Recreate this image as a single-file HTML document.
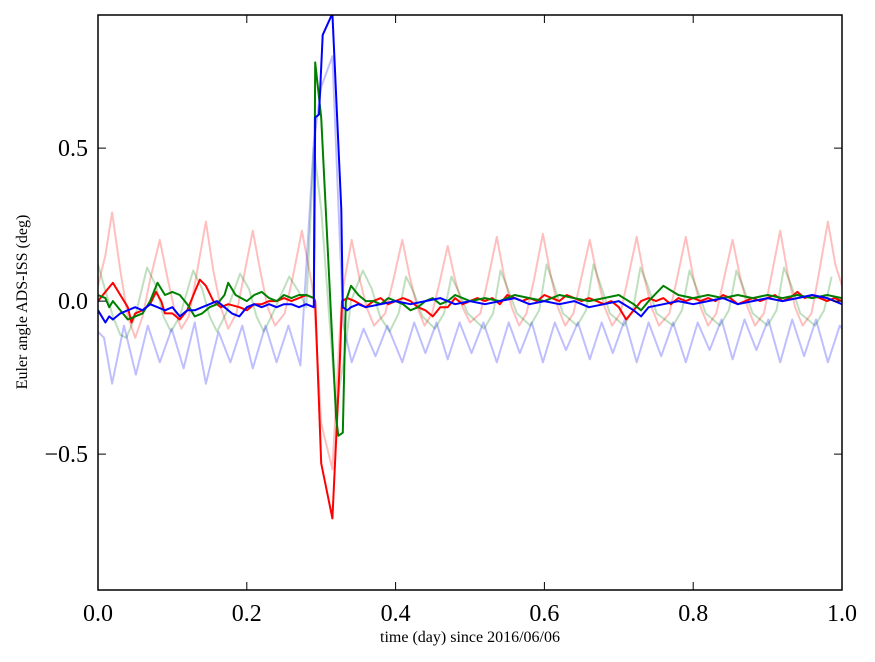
<!DOCTYPE html>
<html><head><meta charset="utf-8"><style>
html,body{margin:0;padding:0;background:#fff;}
svg{display:block;font-family:"Liberation Serif",serif;}
</style></head><body>
<svg id="chart" width="875" height="662" xmlns="http://www.w3.org/2000/svg"></svg>
<script>
const xTicks=[0,0.2,0.4,0.6,0.8,1.0];
const xTickLabels=["0.0","0.2","0.4","0.6","0.8","1.0"];
const yTicks=[-0.5,0,0.5];
const yTickLabels=["\u22120.5","0.0","0.5"];
// faint red
const redFaintT=[0,.01,.019,.03,.04,.05,.06,.07,.083,.093,.103,.112,.122,.132,.145,.155,.165,.175,.186,.196,.208,.218,.228,.238,.251,.262,.274,.284,.29,.3,.315,.325,.33,.341,.351,.361,.371,.386,.397,.409,.419,.429,.439,.449,.459,.47,.48,.49,.5,.514,.524,.536,.546,.556,.566,.576,.586,.598,.608,.618,.628,.639,.649,.661,.671,.681,.691,.702,.712,.724,.734,.744,.754,.768,.778,.79,.8,.81,.82,.831,.841,.853,.863,.873,.883,.895,.905,.917,.927,.937,.947,.959,.969,.981,.991,1];
const redFaintV=[.05,.15,.29,.1,-.05,-.12,-.05,.07,.2,.08,-.03,-.09,-.05,.08,.26,.1,-.02,-.09,-.04,.08,.23,.1,-.02,-.08,-.04,.08,.23,.1,.02,-.4,-.55,-.1,.05,.2,.08,-.02,-.08,-.04,.07,.2,.08,-.02,-.08,-.04,.06,.18,.07,-.02,-.07,-.04,.07,.21,.08,-.02,-.08,-.04,.07,.22,.09,-.02,-.08,-.04,.07,.2,.08,-.02,-.08,-.04,.07,.21,.08,-.02,-.08,-.04,.07,.21,.08,-.02,-.08,-.04,.07,.2,.08,-.02,-.08,-.04,.08,.23,.09,-.02,-.08,-.04,.09,.26,.12,.05];
// faint green
const greenFaintT=[0,.008,.02,.03,.038,.05,.066,.078,.088,.098,.11,.128,.14,.15,.16,.172,.191,.203,.213,.223,.235,.257,.27,.28,.29,.3,.32,.33,.34,.356,.368,.379,.392,.404,.414,.424,.436,.453,.465,.475,.485,.497,.519,.531,.541,.551,.563,.581,.593,.603,.613,.625,.644,.656,.666,.676,.688,.707,.719,.729,.739,.751,.773,.785,.795,.805,.817,.836,.848,.858,.868,.88,.9,.912,.922,.932,.944,.964,.976,.986,.996,1];
const greenFaintV=[.12,.05,-.05,-.11,-.12,-.05,.11,.05,-.05,-.1,-.05,.1,.04,-.05,-.1,-.04,.09,.04,-.05,-.1,-.04,.08,.03,-.02,.5,.3,-.35,-.2,.0,.1,.04,-.05,-.1,-.04,.08,.03,-.05,-.09,-.04,.08,.03,-.04,-.09,-.04,.1,.04,-.04,-.08,-.03,.12,.05,-.04,-.08,-.03,.12,.05,-.04,-.08,-.03,.11,.05,-.04,-.08,-.03,.1,.04,-.04,-.08,-.03,.1,.04,-.04,-.08,-.03,.11,.05,-.04,-.08,-.03,.08];
// faint blue
const blueFaintT=[0,.008,.019,.035,.051,.067,.083,.099,.115,.13,.145,.162,.178,.194,.208,.225,.24,.256,.272,.29,.3,.315,.325,.33,.341,.357,.373,.389,.409,.425,.44,.455,.47,.486,.502,.518,.536,.552,.567,.583,.598,.614,.629,.645,.661,.677,.692,.708,.724,.74,.757,.773,.79,.806,.822,.838,.853,.869,.885,.901,.917,.933,.949,.965,.981,.997,1];
const blueFaintV=[-.1,-.12,-.27,-.08,-.24,-.08,-.2,-.09,-.22,-.07,-.27,-.1,-.2,-.08,-.22,-.08,-.2,-.08,-.21,.52,.7,.8,.2,-.08,-.2,-.09,-.18,-.08,-.2,-.07,-.17,-.07,-.19,-.07,-.17,-.07,-.2,-.07,-.17,-.07,-.2,-.07,-.16,-.07,-.19,-.07,-.17,-.06,-.2,-.07,-.18,-.07,-.2,-.07,-.16,-.06,-.19,-.06,-.16,-.06,-.2,-.06,-.18,-.06,-.2,-.08,-.09];
// bold red
const redT=[0,.01,.02,.03,.04,.045,.05,.06,.07,.078,.085,.09,.1,.11,.12,.13,.137,.145,.155,.165,.175,.19,.2,.21,.22,.23,.24,.25,.26,.27,.28,.29,.292,.3,.315,.325,.328,.335,.345,.36,.37,.38,.39,.4,.41,.42,.43,.44,.45,.46,.47,.48,.49,.5,.51,.52,.53,.54,.55,.56,.57,.58,.59,.6,.61,.62,.63,.64,.65,.66,.67,.68,.69,.7,.71,.72,.73,.74,.75,.76,.77,.78,.79,.8,.81,.82,.83,.84,.85,.86,.87,.88,.89,.9,.91,.92,.93,.94,.95,.96,.97,.98,.99,1];
const redV=[0,.03,.06,.02,-.02,-.07,-.04,-.03,-.01,.03,0,-.04,-.04,-.06,-.03,.03,.07,.05,0,-.02,-.01,-.02,-.03,-.01,-.01,0,0,.01,0,.01,.02,.01,0,-.53,-.71,-.2,0,.01,0,-.02,0,.01,-.01,0,.01,0,-.02,-.03,-.05,-.02,-.02,.01,-.01,0,.01,0,.01,-.01,.02,.01,0,.01,0,.02,.01,0,.02,.01,0,.01,0,-.01,0,-.02,-.06,-.03,0,.01,0,.01,-.01,.01,0,.01,0,.01,0,.02,.01,-.01,0,.01,0,.01,.02,0,.01,.03,.01,.02,.01,0,.01,0];
// bold green
const greenT=[0,.01,.015,.02,.03,.04,.05,.06,.07,.08,.09,.1,.11,.12,.13,.14,.15,.16,.17,.175,.185,.2,.21,.22,.23,.24,.25,.26,.27,.28,.29,.292,.3,.32,.323,.329,.333,.34,.35,.36,.37,.38,.39,.4,.41,.42,.43,.44,.45,.46,.47,.48,.49,.5,.52,.54,.56,.58,.6,.62,.64,.66,.68,.7,.72,.73,.74,.76,.78,.8,.82,.84,.86,.88,.9,.92,.94,.96,.98,1];
const greenV=[.02,.01,-.02,0,-.03,-.06,-.05,-.04,0,.06,.02,.03,.02,-.01,-.05,-.04,-.02,-.01,.02,.06,.02,0,.02,.03,.01,0,.02,.01,.02,.02,.01,.78,.6,-.38,-.44,-.43,0,.05,.02,0,0,-.01,.01,0,-.01,-.03,-.02,0,.01,-.01,0,.02,.01,0,.01,0,.02,.01,0,.02,.01,0,.01,.02,-.01,-.03,0,.05,.02,.01,.02,.01,.02,.01,.02,.01,.02,.01,.02,.01];
// bold blue
const blueT=[0,.01,.015,.02,.03,.04,.05,.06,.07,.08,.09,.1,.11,.12,.13,.14,.15,.16,.17,.18,.19,.2,.21,.22,.23,.24,.25,.26,.27,.28,.29,.292,.297,.302,.315,.327,.329,.335,.34,.35,.36,.38,.4,.42,.44,.46,.48,.5,.52,.54,.56,.58,.6,.62,.64,.66,.68,.7,.72,.73,.74,.76,.78,.8,.82,.84,.86,.88,.9,.92,.94,.96,.98,1];
const blueV=[-.03,-.07,-.05,-.06,-.04,-.03,-.02,-.03,-.01,-.02,-.03,-.02,-.05,-.03,-.03,-.02,-.01,0,-.02,-.04,-.05,-.02,-.01,-.02,-.01,-.02,-.01,-.01,-.02,-.01,-.02,.6,.61,.87,.94,.3,-.02,-.03,-.02,-.01,-.02,-.01,0,-.01,0,.01,-.01,0,-.01,0,.01,-.01,0,-.01,0,-.02,-.01,0,-.03,-.05,-.02,-.01,0,-.01,0,.01,-.01,0,.01,0,.01,.02,.01,-.01];

const L=98,R=842,T=15,B=590,yMin=-0.944,yMax=0.935;
const sx=v=>L+(v-0)/(1-0)*(R-L);
const sy=v=>B-(v-yMin)/(yMax-yMin)*(B-T);
const svg=document.getElementById('chart');
const NS='http://www.w3.org/2000/svg';
function mk(tag,attrs){const e=document.createElementNS(NS,tag);for(const k in attrs)e.setAttribute(k,attrs[k]);return e;}
const clip=mk('clipPath',{id:'pc'});clip.appendChild(mk('rect',{x:L,y:T,width:R-L,height:B-T}));
const defs=mk('defs',{});defs.appendChild(clip);svg.appendChild(defs);
const g=mk('g',{'clip-path':'url(#pc)'});


svg.appendChild(g);
function line(ts,vs,color,op,name){
  let d='';for(let i=0;i<ts.length;i++)d+=(i?'L':'M')+sx(ts[i]).toFixed(1)+','+sy(vs[i]).toFixed(1);
  const p=mk('path',{d:d,fill:'none',stroke:color,'stroke-width':2,'stroke-opacity':op,'stroke-linejoin':'round'});
  
  
  g.appendChild(p);
}
line(redFaintT,redFaintV,'#ff0000',0.25,'red-faint-line');
line(greenFaintT,greenFaintV,'#008000',0.25,'green-faint-line');
line(blueFaintT,blueFaintV,'#0000ff',0.25,'blue-faint-line');
line(redT,redV,'#ff0000',1,'red-line');
line(greenT,greenV,'#008000',1,'green-line');
line(blueT,blueV,'#0000ff',1,'blue-line');
const frame=mk('rect',{x:L,y:T,width:R-L,height:B-T,fill:'none',stroke:'#000','stroke-width':1.5});


svg.appendChild(frame);
xTicks.forEach((v,i)=>{
  const x=sx(v);
  const t1=mk('path',{d:`M${x},${B}V${B-8}M${x},${T}V${T+8}`,stroke:'#000','stroke-width':1});
  
  
  svg.appendChild(t1);
  const tx=mk('text',{x:x,y:B+31,'text-anchor':'middle','font-size':24});
  tx.textContent=xTickLabels[i];
  
  
  svg.appendChild(tx);
});
yTicks.forEach((v,i)=>{
  const y=sy(v);
  const t1=mk('path',{d:`M${L},${y}H${L+8}M${R},${y}H${R-8}`,stroke:'#000','stroke-width':1});
  
  
  svg.appendChild(t1);
  const tx=mk('text',{x:L-10,y:y+8,'text-anchor':'end','font-size':24});
  tx.textContent=yTickLabels[i];
  
  
  svg.appendChild(tx);
});
const xl=mk('text',{x:470,y:642,'text-anchor':'middle','font-size':16});
xl.textContent='time (day) since 2016/06/06';


svg.appendChild(xl);
const yl=mk('text',{x:0,y:0,'text-anchor':'middle','font-size':16,transform:'translate(27,302) rotate(-90)'});
yl.textContent='Euler angle ADS-ISS (deg)';


svg.appendChild(yl);
</script>
</body></html>
